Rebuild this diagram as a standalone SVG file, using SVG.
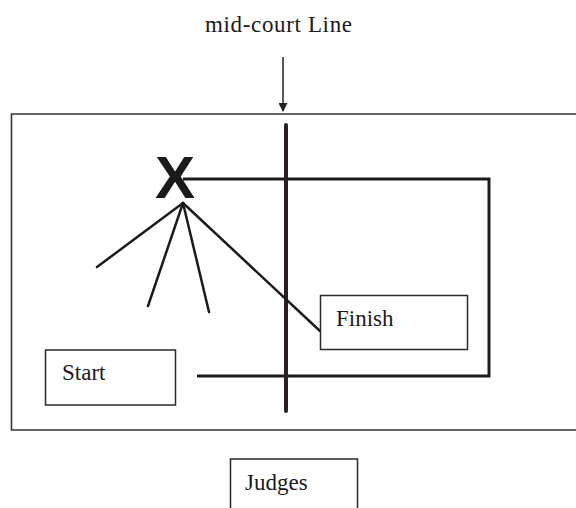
<svg xmlns="http://www.w3.org/2000/svg" width="576" height="508" viewBox="0 0 576 508">
<defs>
<style>
.lbl{font-family:"Liberation Serif","Times New Roman",serif;font-size:23px;fill:#1a1a1a}
.box{fill:#fff;stroke:#2a2a2a;stroke-width:1.5}
.path{fill:none;stroke:#1e1a1a;stroke-width:3}
.fan{fill:none;stroke:#1e1a1a;stroke-width:2.5;stroke-linecap:round}
</style>
<marker id="ah" viewBox="0 0 10 10" refX="9" refY="5" markerWidth="9" markerHeight="9" markerUnits="userSpaceOnUse" orient="auto">
<path d="M0,0 L10,5 L0,10 Z" fill="#222"/>
</marker>
</defs>
<rect width="576" height="508" fill="#fff"/>
<g id="court">
<path d="M600,114 H11.5 V430 H600" fill="none" stroke="#333" stroke-width="1.6"/>
</g>
<g id="connectors">
<line x1="283" y1="57" x2="283" y2="111" stroke="#222" stroke-width="1.5" marker-end="url(#ah)"/>
<path class="path" d="M183,179 H489 V376 H197"/>
<line x1="286" y1="125" x2="286" y2="411" stroke="#2a2020" stroke-width="4" stroke-linecap="round"/>
<line class="fan" x1="183" y1="203" x2="97" y2="267"/>
<line class="fan" x1="183" y1="203" x2="148" y2="306"/>
<line class="fan" x1="183" y1="203" x2="209" y2="312"/>
<line class="fan" x1="183" y1="203" x2="320" y2="331"/>
</g>
<g id="title">
<text class="lbl" x="205" y="32" font-size="22" textLength="147">mid-court Line</text>
</g>
<g id="marker-x">
<text x="175" y="198" text-anchor="middle" font-family="Liberation Sans, Arial, sans-serif" font-weight="bold" font-size="60" fill="#1a1a1a">X</text>
</g>
<g id="finish">
<rect class="box" x="320.5" y="295.5" width="147" height="54"/>
<text class="lbl" x="336" y="326">Finish</text>
</g>
<g id="start">
<rect class="box" x="45.5" y="350" width="130" height="55"/>
<text class="lbl" x="62" y="380">Start</text>
</g>
<g id="judges">
<rect class="box" x="230.5" y="459" width="127" height="60"/>
<text class="lbl" x="245" y="490">Judges</text>
</g>
</svg>
